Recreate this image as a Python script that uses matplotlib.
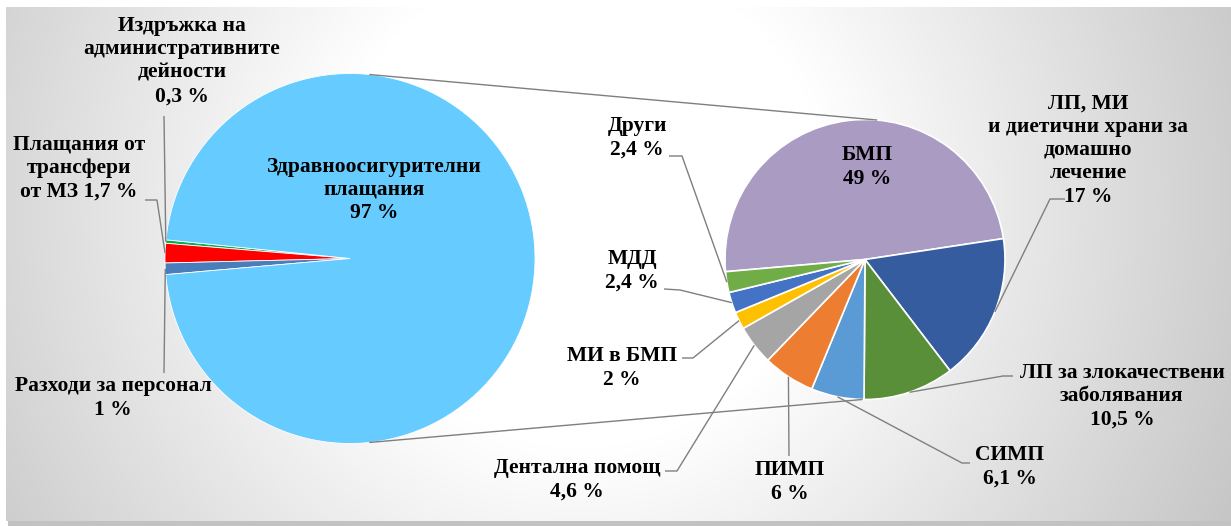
import numpy as np
import matplotlib
matplotlib.use("Agg")
import matplotlib.pyplot as plt
from matplotlib.patches import Rectangle

# ---------------- data ----------------
left_labels = ["Издръжка на\nадминистративните\nдейности\n{}",
               "Плащания от\nтрансфери\nот МЗ {}",
               "Разходи за персонал\n{}",
               "Здравноосигурителни\nплащания\n{}"]
left_values = [0.3, 1.7, 1.0, 97.0]
left_colors = ["#00B050", "#FF0000", "#4A7EBB", "#66CCFF"]

right_labels = ["БМП\n{}",
                "ЛП, МИ\nи диетични храни за\nдомашно\nлечение\n{}",
                "ЛП за злокачествени\nзаболявания\n{}",
                "СИМП\n{}",
                "ПИМП\n{}",
                "Дентална помощ\n{}",
                "МИ в БМП\n{}",
                "МДД\n{}",
                "Други\n{}"]
right_values = [49, 17, 10.5, 6.1, 6, 4.6, 2, 2.4, 2.4]
right_colors = ["#AA9BC3", "#355C9E", "#5A8F3A", "#5B9BD5", "#ED7D31",
                "#A5A5A5", "#FFC000", "#4472C4", "#70AD47"]


def pct(v):
    return f"{v:g}".replace(".", ",") + " %"


# ---------------- layout (image pixel coords, y down) ----------------
W, H = 1231, 526
def Y(y):
    return H - y

L_CENTER = (350, Y(258.5)); L_R = 185
R_CENTER = (865, Y(259.5)); R_R = 140

left_text_pos = [(182, 61), (79, 168), (113, 398), (374, 190)]
left_leader = [[(164, 116)], [(145, 200), (157, 200)], [(164, 373)], None]
right_text_pos = [(867, 167), (1088, 150), (1122, 396), (1010, 467), (790, 482),
                  (577, 480), (622, 368), (632, 271), (637, 138)]
right_leader = [None, [(1065, 199), (1050, 199)], [(1013, 376), (1003, 376)],
                [(970, 463), (962, 463)], [(789, 456)], [(665, 471), (677, 471)],
                [(682, 358), (693, 358)], [(664, 289), (680, 290)],
                [(669, 156), (682, 156)]]

FONT = dict(family=["Liberation Serif", "DejaVu Serif"], fontweight="bold",
            fontsize=15.5, color="black", linespacing=1.23)

fig = plt.figure(figsize=(W / 100, H / 100), dpi=100, facecolor="white")
ax = fig.add_axes([0, 0, 1, 1])

# background: shadow + radial gradient panel
x0, x1, y0, y1 = 6, 1231, 7, 521
ax.add_patch(Rectangle((x0 + 2, Y(y1 + 5)), x1 - x0, (y1 - y0), facecolor="#c2c2c2",
                       edgecolor="none", zorder=0))
gx = np.linspace(x0, x1, 400)
gy = np.linspace(y0, y1, 200)
GX, GY = np.meshgrid(gx, gy)
d = np.hypot(GX - 580, (GY - 200) * 1.0)
v = np.clip(255 - np.clip(d - 250, 0, None) * 0.12, 192, 255) / 255.0
img = np.dstack([v, v, v])
ax.imshow(img, extent=(x0, x1, Y(y1), Y(y0)), origin="upper", aspect="auto",
          zorder=0.5, interpolation="bilinear")

# pies
lw, _ = ax.pie(left_values, colors=left_colors, startangle=174.2, counterclock=True,
               center=L_CENTER, radius=L_R,
               wedgeprops=dict(edgecolor="white", linewidth=0.6))
rw, _ = ax.pie(right_values, colors=right_colors, startangle=185, counterclock=False,
               center=R_CENTER, radius=R_R,
               wedgeprops=dict(edgecolor="white", linewidth=1.2))
for w in list(lw) + list(rw):
    w.set_zorder(2)


def edge_point(center, r, ang):
    a = np.deg2rad(ang)
    return center[0] + r * np.cos(a), center[1] + r * np.sin(a)


def mid_point(w, center, r):
    return edge_point(center, r, (w.theta1 + w.theta2) / 2)


LINE = dict(color="#7f7f7f", linewidth=1.0, zorder=3, solid_capstyle="butt")

# connector lines between the pies
for la, ra in [(84, 85), (-84, -91)]:
    p = edge_point(L_CENTER, L_R, la)
    q = edge_point(R_CENTER, R_R, ra)
    ax.plot([p[0], q[0]], [p[1], q[1]], **LINE)

# labels and leader lines
for wedges, center, r, labels, vals, tpos, leaders in [
        (lw, L_CENTER, L_R, left_labels, left_values, left_text_pos, left_leader),
        (rw, R_CENTER, R_R, right_labels, right_values, right_text_pos, right_leader)]:
    for w, lab, v, (tx, ty), ld in zip(wedges, labels, vals, tpos, leaders):
        ax.text(tx, Y(ty), lab.format(pct(v)), ha="center", va="center", zorder=4, **FONT)
        if ld is not None:
            pts = [(x, Y(y)) for x, y in ld] + [mid_point(w, center, r)]
            xs, ys = zip(*pts)
            ax.plot(xs, ys, **LINE)

ax.set_xlim(0, W)
ax.set_ylim(0, H)
ax.set_aspect("auto")
ax.axis("off")

fig.savefig("out.png", dpi=100, facecolor="white")
